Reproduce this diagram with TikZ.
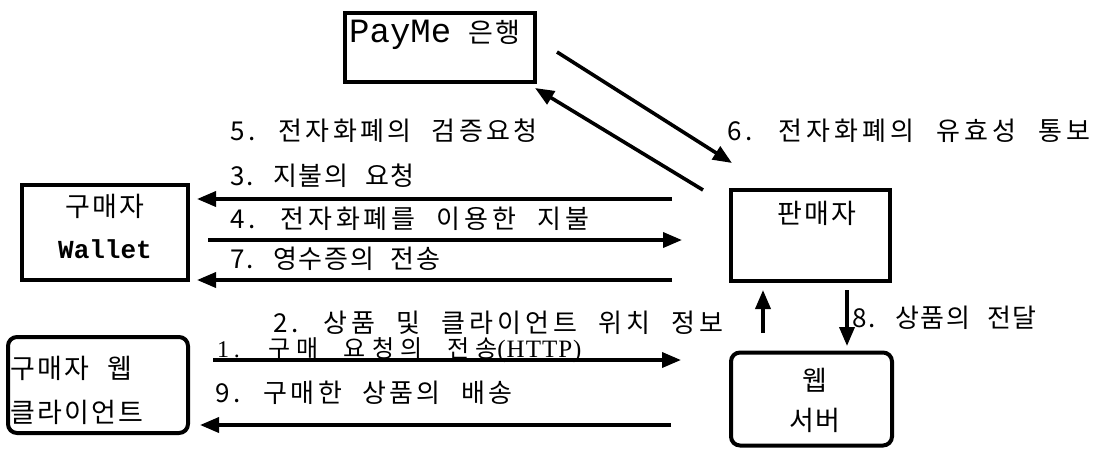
\documentclass[tikz,border=0pt]{standalone}
\usepackage{fontspec}
\setmainfont{Noto Sans CJK KR}[LetterSpace=7, WordSpace=2.2]
\newfontfamily\mono{Liberation Mono}
\newfontfamily\lser{Liberation Serif}[LetterSpace=7]
\usetikzlibrary{arrows.meta}
\newcommand{\ls}[1]{\addfontfeatures{LetterSpace=#1}}
\begin{document}
\begin{tikzpicture}[x=1pt,y=-1pt,
  box/.style={draw, line width=4.5pt, inner sep=0pt},
  rbox/.style={draw, line width=4pt, rounded corners=9pt, inner sep=0pt},
  txt/.style={inner sep=0pt, font=\fontsize{27}{27}\selectfont},
  lbl/.style={inner sep=0pt, anchor=base west, font=\fontsize{26}{26}\selectfont},
  arr/.style={line width=3.6pt, -{Triangle[length=19pt,width=15pt]}}]
\useasboundingbox (0,0) rectangle (1101,448);
% boxes
\node[box, minimum width=190pt, minimum height=69pt] (payme) at (440,47.5) {};
\node[txt, anchor=base west] (paymeT) at (349,42) {{\mono\fontsize{34}{34}\selectfont PayMe} 은행};
\node[box, minimum width=166pt, minimum height=95pt] (wallet) at (105,232.5) {};
\node[txt] (walletA) at (105,206) {구매자};
\node[txt] (walletB) at (105,249) {\mono\bfseries\fontsize{26}{26}\selectfont Wallet};
\node[rbox, minimum width=180pt, minimum height=96pt] (client) at (98,385) {};
\node[txt, anchor=west, font=\fontsize{27}{27}\selectfont\ls{8}] (clientA) at (10,368) {구매자 웹};
\node[txt, anchor=west, font=\fontsize{27}{27}\selectfont\ls{8}] (clientB) at (10,412) {클라이언트};
\node[box, minimum width=159pt, minimum height=91pt] (seller) at (810.5,235.5) {};
\node[txt] (sellerT) at (817,213) {판매자};
\node[rbox, minimum width=161pt, minimum height=93pt] (web) at (811.5,399) {};
\node[txt] (webA) at (815,380) {웹};
\node[txt] (webB) at (815,420) {서버};
% connector end points
\coordinate (a6s) at (557,52);  \coordinate (a6e) at (732,163);
\coordinate (a5s) at (703,190); \coordinate (a5e) at (535,88);
\coordinate (a3s) at (672,199); \coordinate (a3e) at (197,199);
\coordinate (a4s) at (208,240); \coordinate (a4e) at (682,240);
\coordinate (a7s) at (672,280); \coordinate (a7e) at (197,280);
\coordinate (a1s) at (213,360); \coordinate (a1e) at (681,360);
\coordinate (a9s) at (671,425); \coordinate (a9e) at (200,425);
\coordinate (ups) at (763,333); \coordinate (upe) at (763,290);
\coordinate (dns) at (847,290); \coordinate (dne) at (847,346);
\draw[arr] (a6s) -- (a6e);
\draw[arr] (a5s) -- (a5e);
\draw[arr] (a3s) -- (a3e);
\draw[arr] (a4s) -- (a4e);
\draw[arr] (a7s) -- (a7e);
\draw[arr] (a1s) -- (a1e);
\draw[arr] (a9s) -- (a9e);
\draw[arr] (ups) -- (upe);
\draw[arr] (dns) -- (dne);
% labels
\node[lbl, font=\fontsize{26}{26}\selectfont\ls{13}] (l5) at (230,140) {5. 전자화폐의 검증요청};
\node[lbl, font=\fontsize{26}{26}\selectfont\ls{16}] (l6) at (727,140) {6. 전자화폐의 유효성 통보};
\node[lbl] (l3) at (230,185) {3. 지불의 요청};
\node[lbl, font=\fontsize{26}{26}\selectfont\ls{15}] (l4) at (230,228) {4. 전자화폐를 이용한 지불};
\node[lbl] (l7) at (230,268) {7. 영수증의 전송};
\node[lbl, font=\fontsize{26}{26}\selectfont\ls{15}] (l2) at (273,332) {2. 상품 및 클라이언트 위치 정보};
\node[lbl] (l8) at (852,327) {8. 상품의 전달};
\node[lbl, font=\fontsize{24}{24}\selectfont\ls{25}] (l1) at (217,357) {{\lser\ls{20} 1.} 구매 요청의 전송{\lser\fontsize{25}{25}\selectfont\ls{4}(HTTP)}};
\node[lbl, font=\fontsize{26}{26}\selectfont\ls{13}] (l9) at (215,402) {9. 구매한 상품의 배송};
\end{tikzpicture}
\end{document}
